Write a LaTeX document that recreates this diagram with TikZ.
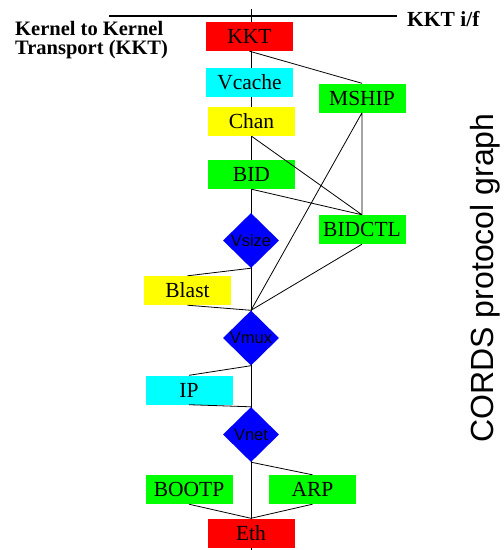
\documentclass[tikz,border=0pt]{standalone}
\usepackage{fontspec}
\setmainfont{Liberation Serif}
\newfontfamily\helvfont{Liberation Sans}
\usetikzlibrary{shapes.geometric}
\definecolor{aqua}{RGB}{0,255,255}
\definecolor{lime}{RGB}{0,255,0}
\definecolor{lemon}{RGB}{255,255,0}
\definecolor{scarlet}{RGB}{255,0,0}
\definecolor{royal}{RGB}{0,0,255}

\begin{document}
\begin{tikzpicture}[x=1pt,y=-1pt]
\tikzstyle{layer}=[rectangle,minimum width=87pt,minimum height=29pt,inner sep=0pt,font=\fontsize{21.5}{21.5}\selectfont];
\tikzstyle{mux}=[diamond,fill=royal,minimum width=56pt,minimum height=55pt,inner sep=0pt,font=\helvfont\fontsize{16.5}{16.5}\selectfont];
\tikzstyle{edge}=[line width=0.8pt];
\tikzstyle{label}=[anchor=base west,inner sep=0pt,font=\bfseries\fontsize{20.5}{20.5}\selectfont];
\useasboundingbox (0,0) rectangle (504,550);
\coordinate (top) at (251,9);
\coordinate (bot) at (251,550);
\coordinate (ifl) at (109,16);
\coordinate (ifr) at (397,16);
\draw[edge] (top) -- (bot);
\draw[line width=2pt] (ifl) -- (ifr);
\node[label] (kktname1) at (15,35.5) {Kernel to Kernel};
\node[label] (kktname2) at (15,54.5) {Transport (KKT)};
\node[label,font=\bfseries\fontsize{21.5}{21.5}\selectfont] (kktif) at (407,26.5) {KKT i/f};
\node[rotate=90,anchor=base,inner sep=0pt,font=\helvfont\fontsize{32}{32}\selectfont] (title) at (493,278) {CORDS protocol graph};
\node[layer,fill=scarlet] (kkt) at (249.5,36.5) {KKT};
\node[layer,fill=aqua] (vcache) at (249.5,82.5) {Vcache};
\node[layer,fill=lime] (mship) at (362,98) {MSHIP};
\node[layer,fill=lemon] (chan) at (251.5,121.5) {Chan};
\node[layer,fill=lime] (bid) at (251.5,174.5) {BID};
\node[layer,fill=lime] (bidctl) at (362,229.5) {BIDCTL};
\node[mux] (vsize) at (251,240.5) {Vsize};
\node[layer,fill=lemon] (blast) at (187.5,290.5) {Blast};
\node[mux] (vmux) at (251,338) {Vmux};
\node[layer,fill=aqua] (ip) at (189,390) {IP};
\node[mux] (vnet) at (251,434.5) {Vnet};
\node[layer,fill=lime] (bootp) at (189,489.5) {BOOTP};
\node[layer,fill=lime] (arp) at (312.5,489.5) {ARP};
\node[layer,fill=scarlet] (eth) at (251,533) {Eth};
\draw[edge] (kkt.south) -- (mship.north)
(mship.south) -- (bidctl.north)
(mship.south) -- (vmux.north)
(chan.south) -- (bidctl.north)
(bid.south) -- (bidctl.north)
(vsize.south) -- (blast.north)
(blast.south) -- (vmux.north)
(bidctl.south) -- (vmux.north)
(vmux.south) -- (ip.north)
(ip.south) -- (vnet.north)
(vnet.south) -- (arp.north)
(bootp.south) -- (eth.north)
(arp.south) -- (eth.north);
\end{tikzpicture}
\end{document}
